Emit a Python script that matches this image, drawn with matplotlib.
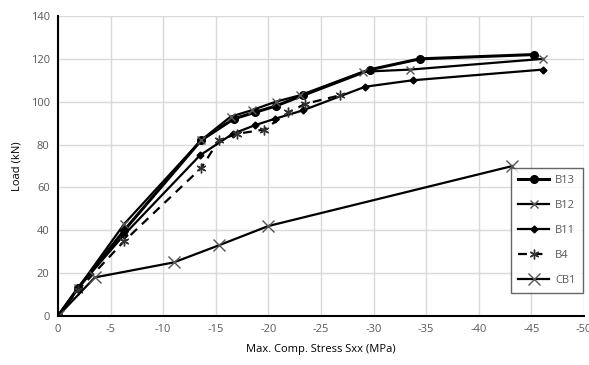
import matplotlib.pyplot as plt

plt.rcParams['font.family'] = ['Open Sans', 'DejaVu Sans']

# dados
b13_x = [0, -1.9, -6.3, -13.6, -16.7, -18.7, -20.7, -23.3, -29.7, -34.4, -45.2]
b13_y = [0, 13, 40, 82, 92, 95, 98, 103, 115, 120, 122]

b12_x = [0, -1.9, -6.3, -13.6, -16.4, -18.4, -20.7, -23.0, -29.0, -33.5, -46.1]
b12_y = [0, 13, 43, 82, 93, 96, 100, 103, 114, 115, 120]

b11_x = [0, -1.9, -6.3, -13.5, -16.6, -18.7, -20.6, -23.3, -29.2, -33.7, -46.1]
b11_y = [0, 13, 38, 75, 85, 89, 92, 96, 107, 110, 115]

b4_x = [0, -1.9, -6.3, -13.6, -15.3, -17.0, -19.6, -21.9, -23.5, -26.8]
b4_y = [0, 12, 35, 69, 82, 85, 87, 95, 99, 103]

cb1_x = [0, -3.5, -11.0, -15.3, -20.0, -43.2]
cb1_y = [0, 18, 25, 33, 42, 70]

x_ticks = [0, -5, -10, -15, -20, -25, -30, -35, -40, -45, -50]
y_ticks = [0, 20, 40, 60, 80, 100, 120, 140]

cinza = '#595959'

fig = plt.figure(figsize=(5.89, 3.65), dpi=100)
ax = fig.add_axes([58/589, 49/365, 526/589, 300/365])

ax.plot(b13_x, b13_y, color='black', lw=2.2, marker='o', ms=5.5, label='B13')
ax.plot(b12_x, b12_y, color='black', lw=1.6, marker='x', ms=6, mec='#555555', mew=1, label='B12')
ax.plot(b11_x, b11_y, color='black', lw=1.6, marker='D', ms=3.5, label='B11')
ax.plot(b4_x, b4_y, color='black', lw=1.6, ls=(0, (4, 3)), marker=(6, 2, 0), ms=7, mec='#333333', mew=1, label='B4')
ax.plot(cb1_x, cb1_y, color='black', lw=1.6, marker='x', ms=8, mec='#555555', mew=1, label='CB1')

ax.set_xlim(0, -50)
ax.set_ylim(0, 140)
ax.set_xticks(x_ticks)
ax.set_xticklabels([str(t) for t in x_ticks])
ax.set_yticks(y_ticks)
ax.grid(True, color='#d9d9d9', lw=1)
ax.set_axisbelow(True)
for s in ['top', 'right']:
    ax.spines[s].set_visible(False)
for s in ['left', 'bottom']:
    ax.spines[s].set_linewidth(1.5)
    ax.spines[s].set_color('black')
ax.tick_params(length=0, colors=cinza, labelsize=8, pad=6)

ax.set_xlabel('Max. Comp. Stress Sxx (MPa)', fontsize=8, color='black', labelpad=6)
ax.set_ylabel('Load (kN)', fontsize=8, color='black', labelpad=6)

leg = ax.legend(loc='upper left', bbox_to_anchor=(453/526, 148/300), fontsize=8,
                frameon=True, fancybox=False, edgecolor='#404040', handlelength=2.8,
                labelspacing=1.25, borderpad=0.65, handletextpad=0.5, borderaxespad=0)
leg.get_frame().set_linewidth(1)
for t in leg.get_texts():
    t.set_color(cinza)

plt.savefig('out.png', dpi=100)
